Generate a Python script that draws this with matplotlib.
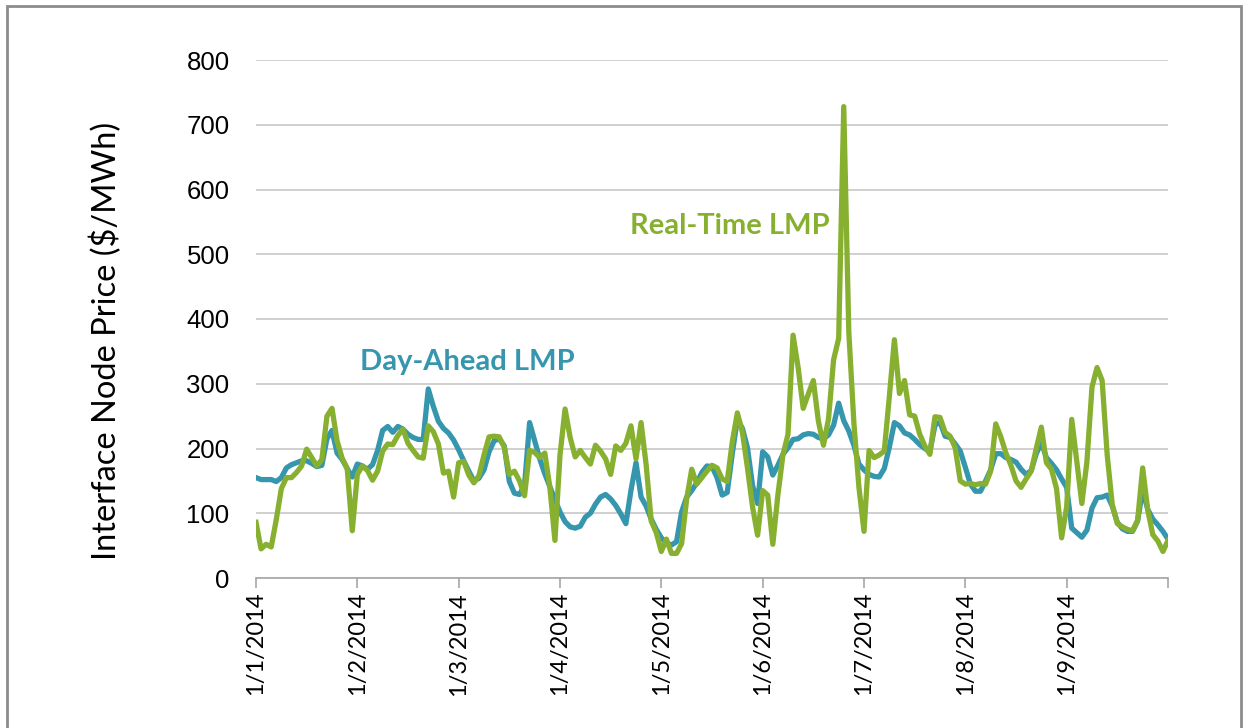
import matplotlib.pyplot as plt
import matplotlib.patches as patches
import numpy as np

plt.rcParams['font.family'] = ['Lato', 'DejaVu Sans']

# prices in $/MWh, sampled 20 points per month from 1/1/2014 to 30/9/2014
realtime = [
    86, 45, 52, 48, 90, 138, 155, 155, 163, 173, 199, 186, 173, 183, 250, 262, 212, 185, 169, 73,
    160, 173, 166, 151, 165, 196, 207, 206, 220, 230, 208, 197, 187, 185, 235, 226, 207, 162, 165, 125,
    178, 180, 159, 147, 158, 190, 218, 219, 218, 202, 160, 165, 150, 127, 197, 194, 186, 193, 140, 58,
    190, 261, 217, 187, 197, 186, 176, 205, 196, 184, 160, 204, 197, 208, 235, 184, 240, 175, 88, 70,
    41, 60, 38, 38, 53, 122, 168, 145, 155, 165, 174, 170, 153, 149, 210, 255, 225, 170, 110, 66,
    135, 128, 52, 128, 190, 222, 375, 325, 262, 284, 305, 242, 205, 246, 337, 370, 728, 380, 240, 140,
    72, 197, 186, 190, 196, 280, 368, 285, 305, 252, 250, 222, 204, 191, 249, 248, 225, 219, 201, 150,
    145, 146, 144, 146, 145, 165, 238, 218, 193, 174, 150, 140, 153, 165, 200, 233, 178, 168, 138, 62,
    110, 245, 180, 115, 180, 295, 325, 305, 190, 113, 84, 79, 75, 73, 89, 170, 105, 67, 57, 41,
    58,
]
dayahead = [
    155, 152, 152, 152, 149, 155, 170, 175, 178, 181, 181, 177, 172, 174, 215, 228, 193, 183, 169, 156,
    176, 173, 168, 175, 197, 228, 234, 225, 234, 230, 222, 217, 214, 214, 292, 265, 242, 231, 224, 213,
    198, 181, 165, 150, 154, 167, 195, 212, 215, 204, 149, 131, 129, 143, 240, 212, 184, 161, 141, 121,
    102, 87, 79, 77, 80, 94, 100, 114, 125, 129, 122, 112, 99, 84, 135, 178, 125, 111, 91, 75,
    62, 54, 51, 56, 102, 125, 135, 147, 163, 173, 172, 155, 128, 132, 192, 245, 231, 201, 143, 115,
    195, 187, 159, 174, 191, 201, 214, 215, 221, 223, 222, 217, 215, 221, 236, 270, 243, 227, 205, 176,
    167, 160, 157, 156, 169, 202, 240, 235, 224, 221, 214, 206, 200, 195, 236, 241, 219, 217, 207, 196,
    171, 145, 134, 134, 150, 167, 192, 192, 186, 183, 179, 168, 160, 166, 192, 209, 186, 177, 167, 153,
    140, 77, 70, 63, 74, 108, 124, 125, 128, 111, 86, 76, 72, 72, 88, 136, 106, 91, 82, 72,
    60,
]
month_labels = ['1/1/2014', '1/2/2014', '1/3/2014', '1/4/2014', '1/5/2014',
                '1/6/2014', '1/7/2014', '1/8/2014', '1/9/2014', '']
points_per_month = 20

blue = '#3596AE'
green = '#88B030'

fig = plt.figure(figsize=(12.49, 7.28), dpi=100)
ax = fig.add_axes([256 / 1249, 150 / 728, 912 / 1249, 518 / 728])

x = np.arange(len(realtime)) / points_per_month
ax.plot(x, dayahead, color=blue, lw=3.8, solid_joinstyle='round', zorder=3)
ax.plot(x, realtime, color=green, lw=3.8, solid_joinstyle='round', zorder=4)

ax.set_xlim(0, len(month_labels) - 1)
ax.set_ylim(0, 800)
ax.set_yticks(np.arange(0, 801, 100))
ax.set_xticks(np.arange(len(month_labels)))
ax.set_xticklabels(month_labels, rotation=90, fontsize=17)
for lab in ax.get_yticklabels():
    lab.set_fontfamily(['Liberation Sans', 'DejaVu Sans'])
    lab.set_fontsize(18.5)

ax.yaxis.grid(True, color='#c8c8c8', lw=1.2)
ax.set_axisbelow(True)
for s in ['top', 'right', 'left']:
    ax.spines[s].set_visible(False)
ax.spines['bottom'].set_color('#a6a6a6')
ax.spines['bottom'].set_linewidth(1.2)
ax.tick_params(axis='y', length=0, pad=19)
ax.tick_params(axis='x', length=7, width=1.2, color='#a6a6a6', pad=3)

ax.set_ylabel('Interface Node Price ($/MWh)', fontsize=23.5)
ax.yaxis.set_label_coords(-0.147, 0.457)

ax.text(2.09, 333, 'Day-Ahead LMP', color=blue, fontsize=21, fontweight='bold',
        ha='center', va='center')
ax.text(4.68, 543, 'Real-Time LMP', color=green, fontsize=21, fontweight='bold',
        ha='center', va='center')

# outer frame of the exported chart
fig.patches.append(patches.Rectangle((7 / 1249, -0.1), 1234 / 1249, 1.1 - 6 / 728,
                                     transform=fig.transFigure, fill=False,
                                     edgecolor='#8c8c8c', lw=2))

fig.savefig('out.png', dpi=100, facecolor='white')
